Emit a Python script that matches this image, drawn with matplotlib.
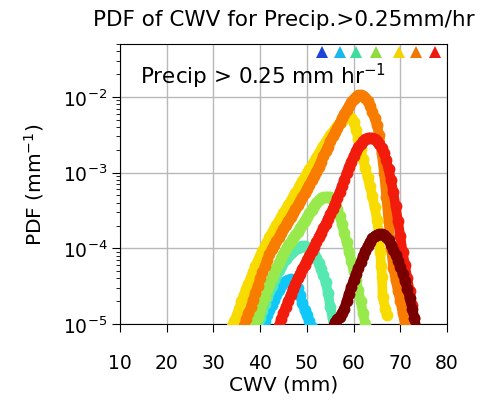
import numpy as np
import matplotlib
matplotlib.use("Agg")
import matplotlib.pyplot as plt

# ---------------- data ----------------
cyan_x = [40.5, 41.0, 41.5, 42.0, 42.5, 43.0, 43.5, 44.0, 44.5, 45.0, 45.5, 46.0, 46.5, 47.0,
          47.5, 48.0, 48.5, 49.0, 49.5, 50.0, 50.5, 51.0]
cyan_y = [9e-6, 1.1e-5, 1.3e-5, 1.55e-5, 1.8e-5, 2.1e-5, 2.45e-5, 2.8e-5, 3.15e-5, 3.45e-5,
          3.7e-5, 3.85e-5, 3.9e-5, 3.8e-5, 3.5e-5, 3.0e-5, 2.4e-5, 1.9e-5, 1.55e-5, 1.3e-5,
          1.1e-5, 9e-6]

mint_x = [39.0, 39.5, 40.0, 40.5, 41.0, 41.5, 42.0, 42.5, 43.0, 43.5, 44.0, 44.5, 45.0, 45.5,
          46.0, 46.5, 47.0, 47.5, 48.0, 48.5, 49.0, 49.5, 50.0, 50.5, 51.0, 51.5, 52.0, 52.5,
          53.0, 53.5, 54.0, 54.5, 55.0, 55.5, 56.0]
mint_y = [8e-6, 1.0e-5, 1.2e-5, 1.5e-5, 1.85e-5, 2.25e-5, 2.7e-5, 3.2e-5, 3.8e-5, 4.4e-5,
          5.1e-5, 5.8e-5, 6.5e-5, 7.2e-5, 7.9e-5, 8.6e-5, 9.2e-5, 9.7e-5, 1.02e-4, 1.05e-4,
          1.07e-4, 1.07e-4, 1.05e-4, 1.0e-4, 9.3e-5, 8.4e-5, 7.4e-5, 6.3e-5, 5.3e-5, 4.4e-5,
          3.6e-5, 2.6e-5, 1.7e-5, 1.2e-5, 8e-6]

green_x = [38.5, 39.0, 39.5, 40.0, 40.5, 41.0, 41.5, 42.0, 42.5, 43.0, 43.5, 44.0, 44.5, 45.0,
           45.5, 46.0, 46.5, 47.0, 47.5, 48.0, 48.5, 49.0, 49.5, 50.0, 50.5, 51.0, 51.5, 52.0,
           52.5, 53.0, 53.5, 54.0, 54.5, 55.0, 55.5, 56.0, 56.5, 57.0, 57.5, 58.0, 58.5, 59.0,
           59.5, 60.0, 60.5, 61.0, 61.5, 62.0, 62.5]
green_y = [8e-6, 1.0e-5, 1.25e-5, 1.55e-5, 1.9e-5, 2.3e-5, 2.8e-5, 3.4e-5, 4.0e-5, 4.7e-5,
           5.5e-5, 6.4e-5, 7.4e-5, 8.5e-5, 9.7e-5, 1.1e-4, 1.22e-4, 1.35e-4, 1.5e-4, 1.65e-4,
           1.85e-4, 2.05e-4, 2.3e-4, 2.6e-4, 2.9e-4, 3.25e-4, 3.6e-4, 3.95e-4, 4.3e-4, 4.55e-4,
           4.7e-4, 4.8e-4, 4.8e-4, 4.7e-4, 4.4e-4, 3.9e-4, 3.3e-4, 2.7e-4, 2.1e-4, 1.6e-4,
           1.2e-4, 9.0e-5, 6.8e-5, 5.0e-5, 3.8e-5, 2.8e-5, 2.0e-5, 1.4e-5, 1.0e-5]

yellow_x = [33.5, 34.0, 34.5, 35.0, 35.5, 36.0, 36.5, 37.0, 37.5, 38.0, 38.5, 39.0, 39.5, 40.0,
            40.5, 41.0, 41.5, 42.0, 42.5, 43.0, 43.5, 44.0, 44.5, 45.0, 45.5, 46.0, 46.5, 47.0,
            47.5, 48.0, 48.5, 49.0, 49.5, 50.0, 50.5, 51.0, 51.5, 52.0, 52.5, 53.0, 53.5, 54.0,
            54.5, 55.0, 55.5, 56.0, 56.5, 57.0, 57.5, 58.0, 58.5, 59.0, 59.5, 60.0, 60.5, 61.0,
            61.5, 62.0, 62.5, 63.0, 63.5, 64.0, 64.5, 65.0, 65.5, 65.7, 65.9, 66.1, 66.2, 66.8,
            67.1]
yellow_y = [8e-6, 9.5e-6, 1.1e-5, 1.3e-5, 1.6e-5, 2.0e-5, 2.4e-5, 2.9e-5, 3.4e-5, 4.1e-5,
            4.9e-5, 5.8e-5, 6.8e-5, 7.9e-5, 9.2e-5, 1.06e-4, 1.22e-4, 1.4e-4, 1.6e-4, 1.8e-4,
            2.05e-4, 2.3e-4, 2.6e-4, 2.9e-4, 3.3e-4, 3.7e-4, 4.2e-4, 4.7e-4, 5.3e-4, 6.0e-4,
            6.8e-4, 7.7e-4, 8.7e-4, 9.8e-4, 1.1e-3, 1.24e-3, 1.4e-3, 1.58e-3, 1.78e-3, 2.0e-3,
            2.25e-3, 2.5e-3, 2.8e-3, 3.1e-3, 3.4e-3, 3.75e-3, 4.1e-3, 4.5e-3, 4.85e-3, 5.2e-3,
            5.45e-3, 5.55e-3, 5.3e-3, 4.6e-3, 3.7e-3, 2.8e-3, 2.05e-3, 1.5e-3, 1.15e-3, 8.8e-4,
            6.6e-4, 4.9e-4, 3.5e-4, 2.4e-4, 1.4e-4, 8.9e-5, 5.8e-5, 4.2e-5, 2.3e-5, 1.6e-5,
            1.3e-5]

orange_x = [36.0, 36.5, 37.0, 37.5, 38.0, 38.5, 39.0, 39.5, 40.0, 40.5, 41.0, 41.5, 42.0, 42.5,
            43.0, 43.5, 44.0, 44.5, 45.0, 45.5, 46.0, 46.5, 47.0, 47.5, 48.0, 48.5, 49.0, 49.5,
            50.0, 50.5, 51.0, 51.5, 52.0, 52.5, 53.0, 53.5, 54.0, 54.5, 55.0, 55.5, 56.0, 56.5,
            57.0, 57.5, 58.0, 58.5, 59.0, 59.5, 60.0, 60.5, 61.0, 61.5, 62.0, 62.5, 63.0, 63.5,
            64.0, 64.5, 65.0, 65.5, 66.0, 66.5, 67.0, 67.5, 68.0, 68.5, 69.0, 69.5, 70.0, 70.5,
            71.0]
orange_y = [8e-6, 9.5e-6, 1.15e-5, 1.4e-5, 1.7e-5, 2.1e-5, 2.6e-5, 3.2e-5, 4.0e-5, 4.8e-5,
            5.8e-5, 7.0e-5, 8.5e-5, 9.8e-5, 1.1e-4, 1.25e-4, 1.4e-4, 1.6e-4, 1.8e-4, 2.05e-4,
            2.3e-4, 2.6e-4, 2.9e-4, 3.3e-4, 3.7e-4, 4.2e-4, 4.7e-4, 5.3e-4, 6.0e-4, 6.9e-4,
            7.9e-4, 9.0e-4, 1.03e-3, 1.2e-3, 1.4e-3, 1.65e-3, 1.9e-3, 2.2e-3, 2.6e-3, 3.0e-3,
            3.4e-3, 3.9e-3, 4.5e-3, 5.2e-3, 6.0e-3, 6.8e-3, 7.6e-3, 8.5e-3, 9.3e-3, 1.0e-2,
            1.05e-2, 1.06e-2, 1.03e-2, 9.6e-3, 8.7e-3, 7.6e-3, 6.4e-3, 5.3e-3, 4.2e-3, 3.1e-3,
            1.8e-3, 1.0e-3, 4.8e-4, 2.2e-4, 1.0e-4, 5.5e-5, 3.8e-5, 2.7e-5, 2.0e-5, 1.4e-5,
            1.0e-5]

red_x = [43.5, 44.0, 44.5, 45.0, 45.5, 46.0, 46.5, 47.0, 47.5, 48.0, 48.5, 49.0, 49.5, 50.0,
         50.5, 51.0, 51.5, 52.0, 52.5, 53.0, 53.5, 54.0, 54.5, 55.0, 55.5, 56.0, 56.5, 57.0,
         57.5, 58.0, 58.5, 59.0, 59.5, 60.0, 60.5, 61.0, 61.5, 62.0, 62.5, 63.0, 63.5, 64.0,
         64.5, 65.0, 65.5, 66.0, 66.5, 67.0, 67.5, 68.0, 68.5, 69.0, 69.5, 70.0, 70.5, 71.0,
         71.5, 72.0, 72.5, 73.0, 73.5]
red_y = [8e-6, 9.5e-6, 1.15e-5, 1.4e-5, 1.7e-5, 2.0e-5, 2.4e-5, 2.9e-5, 3.4e-5, 4.0e-5,
         4.6e-5, 5.3e-5, 6.1e-5, 7.0e-5, 8.0e-5, 9.2e-5, 1.05e-4, 1.2e-4, 1.4e-4, 1.6e-4,
         1.85e-4, 2.1e-4, 2.45e-4, 2.8e-4, 3.3e-4, 3.9e-4, 4.6e-4, 5.5e-4, 6.6e-4, 8.0e-4,
         9.8e-4, 1.18e-3, 1.4e-3, 1.65e-3, 1.9e-3, 2.15e-3, 2.4e-3, 2.6e-3, 2.75e-3, 2.85e-3,
         2.9e-3, 2.85e-3, 2.75e-3, 2.6e-3, 2.4e-3, 2.1e-3, 1.8e-3, 1.45e-3, 1.1e-3, 8.0e-4,
         5.5e-4, 3.6e-4, 2.3e-4, 1.45e-4, 9.0e-5, 6.0e-5, 4.0e-5, 2.7e-5, 1.8e-5, 1.2e-5,
         8e-6]

dred_x = [55.5, 56.0, 56.5, 57.0, 57.5, 58.0, 58.5, 59.0, 59.5, 60.0, 60.5, 61.0, 61.5, 62.0,
          62.5, 63.0, 63.5, 64.0, 64.5, 65.0, 65.5, 66.0, 66.5, 67.0, 67.5, 68.0, 68.5, 69.0,
          69.5, 70.0, 70.5, 71.0, 71.5, 72.0, 72.5, 73.0, 73.5]
dred_y = [9e-6, 1.05e-5, 1.15e-5, 1.25e-5, 1.4e-5, 1.6e-5, 2.0e-5, 2.5e-5, 3.1e-5, 3.8e-5,
          4.6e-5, 5.5e-5, 6.5e-5, 7.8e-5, 9.2e-5, 1.07e-4, 1.22e-4, 1.35e-4, 1.45e-4, 1.52e-4,
          1.55e-4, 1.55e-4, 1.5e-4, 1.4e-4, 1.27e-4, 1.12e-4, 9.6e-5, 8.2e-5, 6.9e-5, 5.7e-5,
          4.6e-5, 3.7e-5, 2.9e-5, 2.2e-5, 1.6e-5, 1.2e-5, 8.5e-6]

# critical-value markers along the top
tri_x = [53.2, 57.1, 60.5, 64.8, 69.8, 73.4, 77.4]
tri_colors = ['#1f45d8', '#1bb8ec', '#3fdca0', '#8fdc40', '#f2d200', '#f07800', '#ee1a10']

series = [
    (cyan_x, cyan_y, '#10c8f8'),
    (mint_x, mint_y, '#55e8b0'),
    (green_x, green_y, '#98ea4c'),
    (yellow_x, yellow_y, '#f8dc00'),
    (orange_x, orange_y, '#f87c00'),
    (red_x, red_y, '#f21c0c'),
    (dred_x, dred_y, '#7a0000'),
]

title = "PDF of CWV for Precip.>0.25mm/hr"
xticks = [10, 20, 30, 40, 50, 60, 70, 80]

# ---------------- figure ----------------
fig = plt.figure(figsize=(4.93, 4.06), dpi=100)
ax = fig.add_axes([0.2434, 0.1995, 0.6633, 0.6897])

for xs, ys, c in series:
    ax.plot(xs, ys, ls='-', lw=7, solid_capstyle='round', marker='o', ms=8.5, mew=0,
            color=c, zorder=3)

ax.set_yscale('log')
ax.set_xlim(10, 80)
ax.set_ylim(1e-5, 5e-2)
ax.set_xticks(xticks)

tri_trans = ax.get_xaxis_transform()
for tx, tc in zip(tri_x, tri_colors):
    ax.plot(tx, 0.972, marker='^', ms=8.5, mew=0, color=tc, transform=tri_trans,
            clip_on=False, zorder=4)

ax.grid(True, which='major', color='#b8b8b8', lw=1.0)
ax.set_axisbelow(True)

ax.tick_params(axis='x', which='major', labelsize=13.5, length=6, pad=15)
ax.tick_params(axis='y', which='major', labelsize=13.5, length=6, pad=3)
ax.tick_params(axis='y', which='minor', length=3)

ax.set_xlabel('CWV (mm)', fontsize=14.5, labelpad=2)
ax.set_ylabel('PDF (mm$^{-1}$)', fontsize=14.5, labelpad=12)
ax.set_title(title, fontsize=15.5, pad=14)

ax.text(0.06, 0.86, 'Precip > 0.25 mm hr$^{-1}$', transform=ax.transAxes,
        fontsize=15.5, ha='left', va='baseline')

fig.savefig('out.png', dpi=100)
